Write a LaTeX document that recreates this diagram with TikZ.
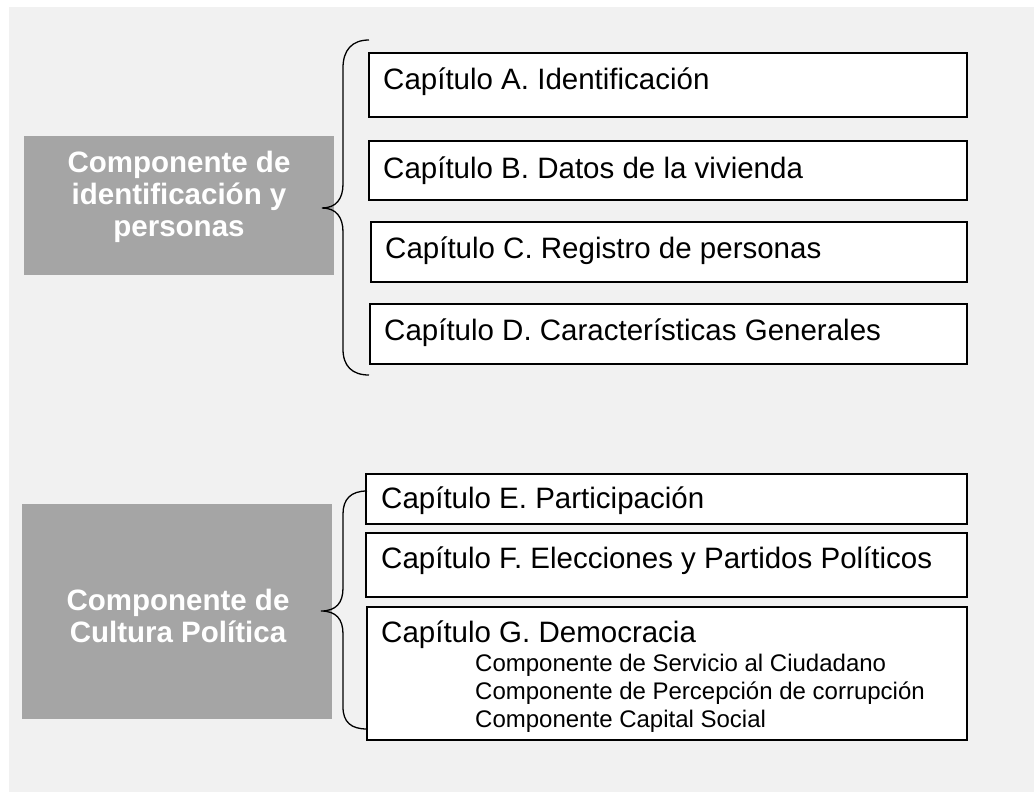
\documentclass[tikz,border=0pt]{standalone}
\usepackage{fontspec}
\setmainfont{Liberation Sans}
\definecolor{bggray}{HTML}{F1F1F1}
\definecolor{compgray}{HTML}{A5A5A5}
\tikzset{
  capbox/.style={draw=black,fill=white,line width=1.6pt},
  captxt/.style={anchor=base west,inner sep=0pt,font=\fontsize{29.5}{34}\selectfont},
  subtxt/.style={anchor=north west,inner sep=0pt,align=left,font=\fontsize{24}{28}\selectfont},
  comptxt/.style={anchor=north,inner sep=0pt,align=center,text=white,font=\fontsize{29.5}{32}\selectfont\bfseries},
  llave/.style={draw=black,line width=1.3pt}
}
\begin{document}
\begin{tikzpicture}[x=1pt,y=-1pt]
      \useasboundingbox (0,0) rectangle (1034,792);
      \fill[white] (0,0) rectangle (1034,792);
      \fill[bggray] (9,7) rectangle (1034,792);
      % componentes
      \fill[compgray] (24,136) rectangle (334,275);
      \node[comptxt] (compA) at (179,151) {Componente de\\identificación y\\personas};
      \fill[compgray] (22,504) rectangle (332,719);
      \node[comptxt] (compB) at (178,589) {Componente de\\Cultura Política};
      % capitulos
      \draw[capbox] (369,53) rectangle (967,117); \node[captxt] (capA) at (383,89) {Capítulo A. Identificación};
      \draw[capbox] (369,141) rectangle (967,200); \node[captxt] (capB) at (383,178) {Capítulo B. Datos de la vivienda};
      \draw[capbox] (371,222) rectangle (967,282); \node[captxt] (capC) at (385,258) {Capítulo C. Registro de personas};
      \draw[capbox] (370,304) rectangle (967,364); \node[captxt] (capD) at (384,340) {Capítulo D. Características Generales};
      \draw[capbox] (366,474) rectangle (967,524); \node[captxt] (capE) at (381,508) {Capítulo E. Participación};
      \draw[capbox] (366,533) rectangle (967,597); \node[captxt] (capF) at (381,568) {Capítulo F. Elecciones y Partidos Políticos};
      \draw[capbox] (367,607) rectangle (967,740); \node[captxt] (capG) at (381,642) {Capítulo G. Democracia};
      \node[subtxt] (subG) at (475,654) {Componente de Servicio al Ciudadano\\Componente de Percepción de corrupción\\Componente Capital Social};
      % llaves
      \draw[llave] (369,40) .. controls (352,40) and (343,50) .. (343,68) -- (343,184)
        .. controls (343,199) and (336,208) .. (322,208)
        .. controls (336,208) and (343,217) .. (343,232) -- (343,349)
        .. controls (343,366) and (352,375) .. (369,375);
      \draw[llave] (367,491) .. controls (351,491) and (343,499) .. (343,514) -- (343,588)
        .. controls (343,603) and (336,611) .. (321,611)
        .. controls (336,611) and (343,619) .. (343,634) -- (343,707)
        .. controls (343,722) and (351,729) .. (367,729);
\end{tikzpicture}
\end{document}
